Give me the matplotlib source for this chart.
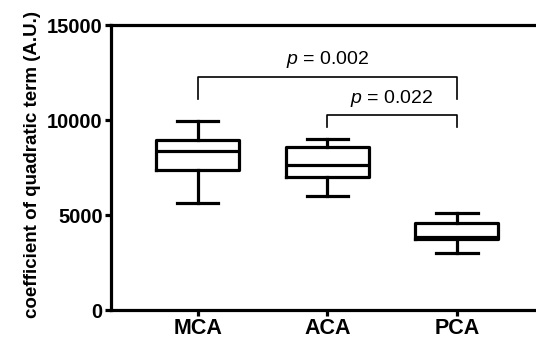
import matplotlib.pyplot as plt

plt.rcParams['font.family'] = ['Liberation Sans', 'DejaVu Sans']
plt.rcParams['mathtext.fontset'] = 'custom'
plt.rcParams['mathtext.rm'] = 'Liberation Sans'
plt.rcParams['mathtext.it'] = 'Liberation Sans:italic'

# box statistics
groups = ["MCA", "ACA", "PCA"]
whislo = [5650, 6000, 2980]
q1 = [7370, 7020, 3720]
med = [8380, 7630, 3860]
q3 = [8950, 8600, 4560]
whishi = [9960, 9000, 5120]

# significance brackets: (from group, to group, top, drop, label)
comparisons = [(0, 2, 12280, 11100, "$p$ = 0.002"),
               (1, 2, 10260, 9620, "$p$ = 0.022")]

stats = []
for i, g in enumerate(groups):
    stats.append(dict(label=g, whislo=whislo[i], q1=q1[i], med=med[i],
                      q3=q3[i], whishi=whishi[i], fliers=[]))

fig = plt.figure(figsize=(5.36, 3.4), dpi=100)
ax = fig.add_axes([0.207, 0.088, 0.80, 0.838])

lw = 2.3
pos = [1, 2, 3]
ax.bxp(stats, positions=pos, widths=0.64, showfliers=False,
       boxprops=dict(linewidth=lw, color="black"),
       medianprops=dict(linewidth=lw, color="black"),
       whiskerprops=dict(linewidth=lw, color="black"),
       capprops=dict(linewidth=lw, color="black"))

for a, b, top, drop, lab in comparisons:
    xa, xb = pos[a], pos[b]
    ax.plot([xa, xa, xb, xb], [drop, top, top, drop], color="black", lw=1.2)
    ax.text((xa + xb) / 2, top + 350, lab, ha="center", va="bottom", fontsize=14)

ax.set_xlim(0.33, 3.64)
ax.set_ylim(0, 15000)
ax.set_yticks([0, 5000, 10000, 15000])
ax.set_xticks(pos)
ax.set_xticklabels(groups)
ax.spines["right"].set_visible(False)
for s in ["left", "bottom", "top"]:
    ax.spines[s].set_linewidth(lw)
ax.tick_params(axis="both", width=lw, length=4, pad=2)
ax.tick_params(axis="y", labelsize=14.5)
ax.tick_params(axis="x", labelsize=15.5)
for t in ax.get_xticklabels() + ax.get_yticklabels():
    t.set_fontweight("bold")
ax.set_ylabel("coefficient of quadratic term (A.U.)", fontsize=13.5,
              fontweight="bold")
ax.yaxis.set_label_coords(-0.163, 0.51)

fig.savefig("out.png", dpi=100)
